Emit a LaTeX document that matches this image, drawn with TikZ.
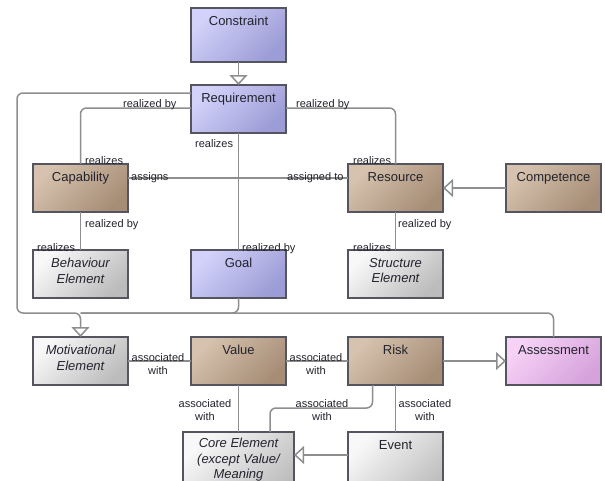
\documentclass[tikz,border=0pt]{standalone}
\usepackage{fontspec}
\setmainfont{Liberation Sans}
\usetikzlibrary{arrows.meta}
\definecolor{motA}{HTML}{D2D2FA}
\definecolor{motB}{HTML}{9C9CD6}
\definecolor{strA}{HTML}{D6C2AE}
\definecolor{strB}{HTML}{A68D76}
\definecolor{assA}{HTML}{F6D2F6}
\definecolor{assB}{HTML}{D6A2DC}
\definecolor{greyA}{HTML}{F8F8F8}
\definecolor{greyB}{HTML}{BCBCBC}
\definecolor{boxline}{HTML}{555560}
\definecolor{linegray}{HTML}{8E8E8E}
\definecolor{txt}{HTML}{23232E}
\begin{document}
\begin{tikzpicture}[x=1pt,y=-1pt,
  basebox/.style={draw=boxline, line width=1.1pt, anchor=north west, minimum width=95pt, minimum height=48pt, inner sep=0pt, outer sep=0pt},
  motbox/.style={basebox, top color=motA, bottom color=motB, shading angle=45},
  strbox/.style={basebox, top color=strA, bottom color=strB, shading angle=45},
  assbox/.style={basebox, top color=assA, bottom color=assB, shading angle=45},
  greybox/.style={basebox, top color=greyA, bottom color=greyB, shading angle=45},
  btxt/.style={anchor=base, inner sep=0pt, text=txt, font=\fontsize{13}{15.5}\selectfont},
  itxt/.style={anchor=north, inner sep=0pt, text=txt, align=center, font=\fontsize{13}{15.5}\selectfont\itshape},
  lbl/.style={anchor=base west, inner sep=0pt, text=txt, font=\fontsize{11}{13.5}\selectfont},
  lbl2/.style={anchor=center, inner sep=0pt, text=txt, align=center, font=\fontsize{11}{13.5}\selectfont},
  conn/.style={draw=linegray, line width=1.5pt, rounded corners=6pt},
  gen/.style={conn, -{Triangle[open, length=10pt, width=18pt, fill=white]}}
]
\useasboundingbox (0,0) rectangle (605,480);
\clip (0,0) rectangle (605,480);
\fill[white] (0,0) rectangle (605,480);

% boxes
\node[motbox, minimum height=54pt] (cons) at (191,8) {};
\node[motbox] (req) at (191,85) {};
\node[strbox] (cap) at (33,164) {};
\node[strbox] (res) at (348,164) {};
\node[strbox] (comp) at (506,164) {};
\node[greybox] (beh) at (33,250) {};
\node[motbox] (goal) at (191,250) {};
\node[greybox] (str) at (348,250) {};
\node[greybox] (mot) at (33,337) {};
\node[strbox] (val) at (191,337) {};
\node[strbox] (risk) at (348,337) {};
\node[assbox] (ass) at (506,337) {};
\node[greybox, minimum width=111pt, minimum height=72pt] (core) at (183,432) {};
\node[greybox, minimum height=72pt] (evt) at (348,432) {};

% box texts
\node[btxt] (cons-t) at ([yshift=-17pt]cons.north) {Constraint};
\node[btxt] (req-t) at ([yshift=-17pt]req.north) {Requirement};
\node[btxt] (cap-t) at ([yshift=-17pt]cap.north) {Capability};
\node[btxt] (res-t) at ([yshift=-17pt]res.north) {Resource};
\node[btxt] (comp-t) at ([yshift=-17pt]comp.north) {Competence};
\node[btxt] (goal-t) at ([yshift=-17pt]goal.north) {Goal};
\node[btxt] (val-t) at ([yshift=-17pt]val.north) {Value};
\node[btxt] (risk-t) at ([yshift=-17pt]risk.north) {Risk};
\node[btxt] (ass-t) at ([yshift=-17pt]ass.north) {Assessment};
\node[btxt] (evt-t) at ([yshift=-17pt]evt.north) {Event};
\node[itxt] (beh-t) at ([yshift=-8pt]beh.north) {Behaviour\\Element};
\node[itxt] (str-t) at ([yshift=-8pt]str.north) {Structure\\Element};
\node[itxt] (mot-t) at ([yshift=-8pt]mot.north) {Motivational\\Element};
\node[itxt] (core-t) at ([yshift=-6pt]core.north) {Core Element\\(except Value/\\Meaning};

% connectors
\coordinate (jM) at (80.5,313);
\coordinate (busL) at (17,313);
\draw[gen] (cons.south) -- (req.north);
\draw[gen] ([yshift=-8pt]req.north west) -| (busL) -| (mot.north);
\draw[conn] (goal.south) |- (jM);
\draw[conn] (ass.north) |- (jM);
\draw[conn] ([yshift=-23pt]req.north west) -| (cap.north);
\draw[conn] ([yshift=-23pt]req.north east) -| (res.north);
\draw[conn] (req.south) -- (goal.north);
\draw[conn] ([yshift=10pt]cap.east) -- ([yshift=10pt]res.west);
\draw[conn] (cap.south) -- (beh.north);
\draw[conn] (res.south) -- (str.north);
\draw[gen] (comp.west) -- (res.east);
\draw[conn] (mot.east) -- (val.west);
\draw[conn] (val.east) -- (risk.west);
\draw[gen] (risk.east) -- (ass.west);
\draw[conn] (val.south) -- (core.north);
\draw[conn] ([xshift=-23pt]risk.south) -- ++(0,23) -| ([xshift=31.5pt]core.north);
\draw[conn] (risk.south) -- (evt.north);
\draw[gen] ([yshift=-23pt]evt.north west) -- ([yshift=-23pt]core.north east);

% labels
\node[lbl] (l1) at (123,107) {realized by};
\node[lbl] (l2) at (296,107) {realized by};
\node[lbl] (l3) at (195,147) {realizes};
\node[lbl] (l4) at (85,164) {realizes};
\node[lbl] (l5) at (353,164) {realizes};
\node[lbl] (l6) at (131,180) {assigns};
\node[lbl] (l7) at (287,180) {assigned to};
\node[lbl] (l8) at (85,227) {realized by};
\node[lbl] (l9) at (398,227) {realized by};
\node[lbl] (l10) at (37,251) {realizes};
\node[lbl] (l11) at (242,251) {realized by};
\node[lbl] (l12) at (353,251) {realizes};
\node[lbl2] (l13) at (158,364) {associated\\with};
\node[lbl2] (l14) at (316,364) {associated\\with};
\node[lbl2] (l15) at (205,410) {associated\\with};
\node[lbl2] (l16) at (322,410) {associated\\with};
\node[lbl2] (l17) at (425,410) {associated\\with};
\end{tikzpicture}
\end{document}
